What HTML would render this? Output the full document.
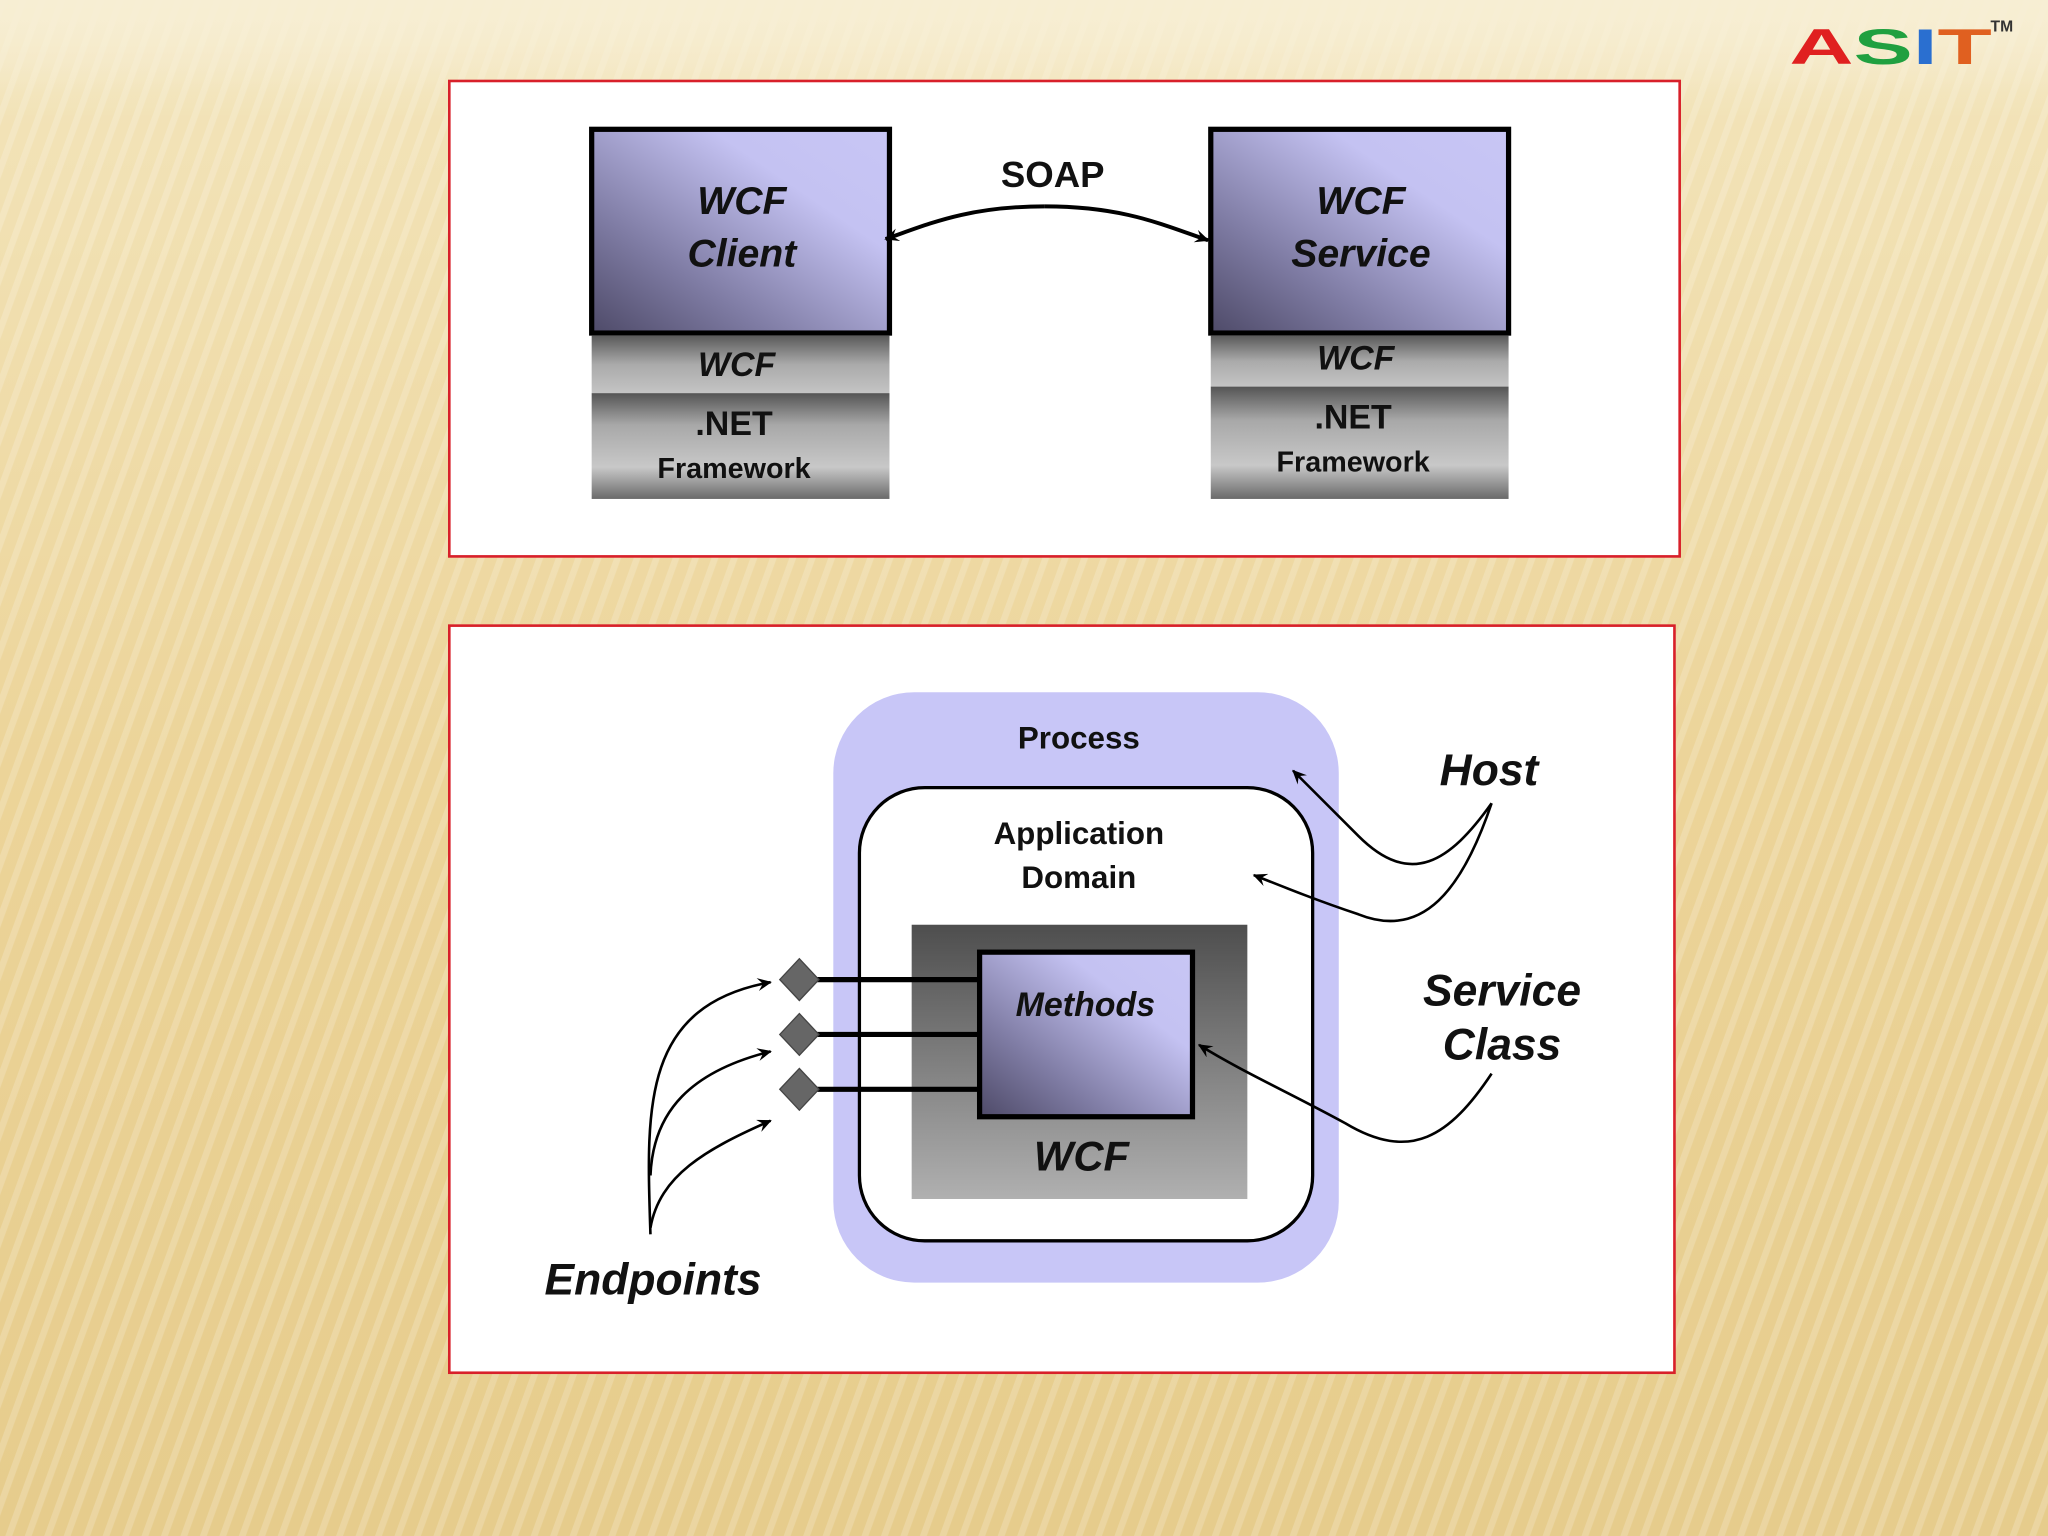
<!DOCTYPE html>
<html><head><meta charset="utf-8"><style>
html,body{margin:0;padding:0}
body{width:2048px;height:1536px;overflow:hidden;background:#eed9a4}
svg{display:block}
text{font-family:"Liberation Sans",Arial,sans-serif;font-weight:bold}
</style></head><body>
<svg width="2048" height="1536" viewBox="0 0 1568 1176" xmlns="http://www.w3.org/2000/svg">
<defs>
<linearGradient id="bg" x1="0" y1="0" x2="0" y2="1">
<stop offset="0" stop-color="#f7eed3"/><stop offset="0.06" stop-color="#f2e3b8"/><stop offset="0.5" stop-color="#ecd499"/><stop offset="1" stop-color="#e6cc8c"/></linearGradient>
<pattern id="stripes" width="14" height="14" patternUnits="userSpaceOnUse" patternTransform="rotate(20)">
<rect width="14" height="14" fill="none"/><rect width="5" height="14" fill="#ffffff" opacity="0.18"/></pattern>
<linearGradient id="fade" x1="0" y1="0" x2="0" y2="1">
<stop offset="0" stop-color="#f7eed3" stop-opacity="0.9"/><stop offset="1" stop-color="#f7eed3" stop-opacity="0"/></linearGradient>
<linearGradient id="pur" x1="0" y1="1" x2="1" y2="0">
<stop offset="0" stop-color="#4e4a68"/><stop offset="0.3" stop-color="#7f7ca4"/><stop offset="0.7" stop-color="#c4c2f2"/><stop offset="1" stop-color="#c8c6f5"/></linearGradient>
<linearGradient id="g1" x1="0" y1="0" x2="0" y2="1">
<stop offset="0" stop-color="#5a5a5a"/><stop offset="0.5" stop-color="#aaa"/><stop offset="1" stop-color="#c4c4c4"/></linearGradient>
<linearGradient id="g2" x1="0" y1="0" x2="0" y2="1">
<stop offset="0" stop-color="#555"/><stop offset="0.3" stop-color="#a8a8a8"/><stop offset="0.7" stop-color="#c8c8c8"/><stop offset="1" stop-color="#6a6a6a"/></linearGradient>
<linearGradient id="g3" x1="0" y1="0" x2="0" y2="1">
<stop offset="0" stop-color="#4e4e4e"/><stop offset="1" stop-color="#b0b0b0"/></linearGradient>
<marker id="ah" markerWidth="12" markerHeight="10" refX="10" refY="5" orient="auto" markerUnits="userSpaceOnUse">
<path d="M0,0 L11,5 L0,10 L4,5 z" fill="#000"/></marker>
</defs>
<rect width="1568" height="1176" fill="url(#bg)"/>
<rect width="1568" height="1176" fill="url(#stripes)"/>
<rect x="0" y="0" width="1568" height="90" fill="url(#fade)"/>
<text x="1370" y="49" font-size="38" font-weight="normal" textLength="155" lengthAdjust="spacingAndGlyphs"><tspan fill="#e02020">A</tspan><tspan fill="#20a040">S</tspan><tspan fill="#2a6fd0">I</tspan><tspan fill="#e06020">T</tspan></text>
<text x="1524" y="24" font-size="12" fill="#333">TM</text>

<rect x="344" y="62" width="942" height="364" fill="#fff" stroke="#d8202a" stroke-width="2"/>
<rect x="453" y="99" width="228" height="156" fill="url(#pur)" stroke="#000" stroke-width="4"/>
<rect x="453" y="257" width="228" height="44" fill="url(#g1)"/>
<rect x="453" y="301" width="228" height="81" fill="url(#g2)"/>
<text x="568" y="164" font-size="30" font-style="italic" text-anchor="middle" fill="#111">WCF</text>
<text x="568" y="204" font-size="30" font-style="italic" text-anchor="middle" fill="#111">Client</text>
<text x="564" y="288" font-size="26" font-style="italic" text-anchor="middle" fill="#111">WCF</text>
<text x="562" y="333" font-size="26" text-anchor="middle" fill="#111">.NET</text>
<text x="562" y="366" font-size="22" text-anchor="middle" fill="#111">Framework</text>

<rect x="927" y="99" width="228" height="156" fill="url(#pur)" stroke="#000" stroke-width="4"/>
<rect x="927" y="257" width="228" height="39" fill="url(#g1)"/>
<rect x="927" y="296" width="228" height="86" fill="url(#g2)"/>
<text x="1042" y="164" font-size="30" font-style="italic" text-anchor="middle" fill="#111">WCF</text>
<text x="1042" y="204" font-size="30" font-style="italic" text-anchor="middle" fill="#111">Service</text>
<text x="1038" y="283" font-size="26" font-style="italic" text-anchor="middle" fill="#111">WCF</text>
<text x="1036" y="328" font-size="26" text-anchor="middle" fill="#111">.NET</text>
<text x="1036" y="361" font-size="22" text-anchor="middle" fill="#111">Framework</text>
<text x="806" y="143" font-size="28" text-anchor="middle" fill="#111">SOAP</text>
<path d="M800,158 C740,158 710,172 678,183" fill="none" stroke="#000" stroke-width="3" marker-end="url(#ah)"/>
<path d="M800,158 C860,158 890,172 925,184" fill="none" stroke="#000" stroke-width="3" marker-end="url(#ah)"/>

<rect x="344" y="479" width="938" height="572" fill="#fff" stroke="#d8202a" stroke-width="2"/>
<rect x="638" y="530" width="387" height="452" rx="62" fill="#c8c6f7"/>
<rect x="658" y="603" width="347" height="347" rx="50" fill="#fff" stroke="#000" stroke-width="2.5"/>
<text x="826" y="573" font-size="24" text-anchor="middle" fill="#111">Process</text>
<text x="826" y="646" font-size="24" text-anchor="middle" fill="#111">Application</text>
<text x="826" y="680" font-size="24" text-anchor="middle" fill="#111">Domain</text>
<rect x="698" y="708" width="257" height="210" fill="url(#g3)"/>
<rect x="750" y="729" width="163" height="126" fill="url(#pur)" stroke="#000" stroke-width="4"/>
<text x="831" y="778" font-size="26" font-style="italic" text-anchor="middle" fill="#111">Methods</text>
<text x="828" y="896" font-size="32" font-style="italic" text-anchor="middle" fill="#111">WCF</text>
<g stroke="#000" stroke-width="4">
<line x1="622" y1="750" x2="750" y2="750"/><line x1="622" y1="792" x2="750" y2="792"/><line x1="622" y1="834" x2="750" y2="834"/></g>
<g fill="#666" stroke="#444" stroke-width="1">
<path d="M612,734 L627,750 L612,766 L597,750z"/><path d="M612,776 L627,792 L612,808 L597,792z"/><path d="M612,818 L627,834 L612,850 L597,834z"/></g>
<g fill="none" stroke="#000" stroke-width="2">
<path d="M498,945 C495,850 490,770 590,752" marker-end="url(#ah)"/>
<path d="M498,900 C500,850 530,820 590,805" marker-end="url(#ah)"/>
<path d="M498,940 C505,900 540,880 590,858" marker-end="url(#ah)"/>
<path d="M1142,615 C1110,660 1080,680 1040,640 C1020,620 1005,605 990,590" marker-end="url(#ah)"/>
<path d="M1142,615 C1120,680 1090,720 1040,700 C1010,690 985,680 960,670" marker-end="url(#ah)"/>
<path d="M1142,822 C1110,870 1080,890 1030,860 C990,838 950,820 918,800" marker-end="url(#ah)"/>
</g>
<text x="500" y="991" font-size="34" font-style="italic" text-anchor="middle" fill="#111">Endpoints</text>
<text x="1140" y="601" font-size="34" font-style="italic" text-anchor="middle" fill="#111">Host</text>
<text x="1150" y="770" font-size="34" font-style="italic" text-anchor="middle" fill="#111">Service</text>
<text x="1150" y="811" font-size="34" font-style="italic" text-anchor="middle" fill="#111">Class</text>
</svg>
</body></html>
